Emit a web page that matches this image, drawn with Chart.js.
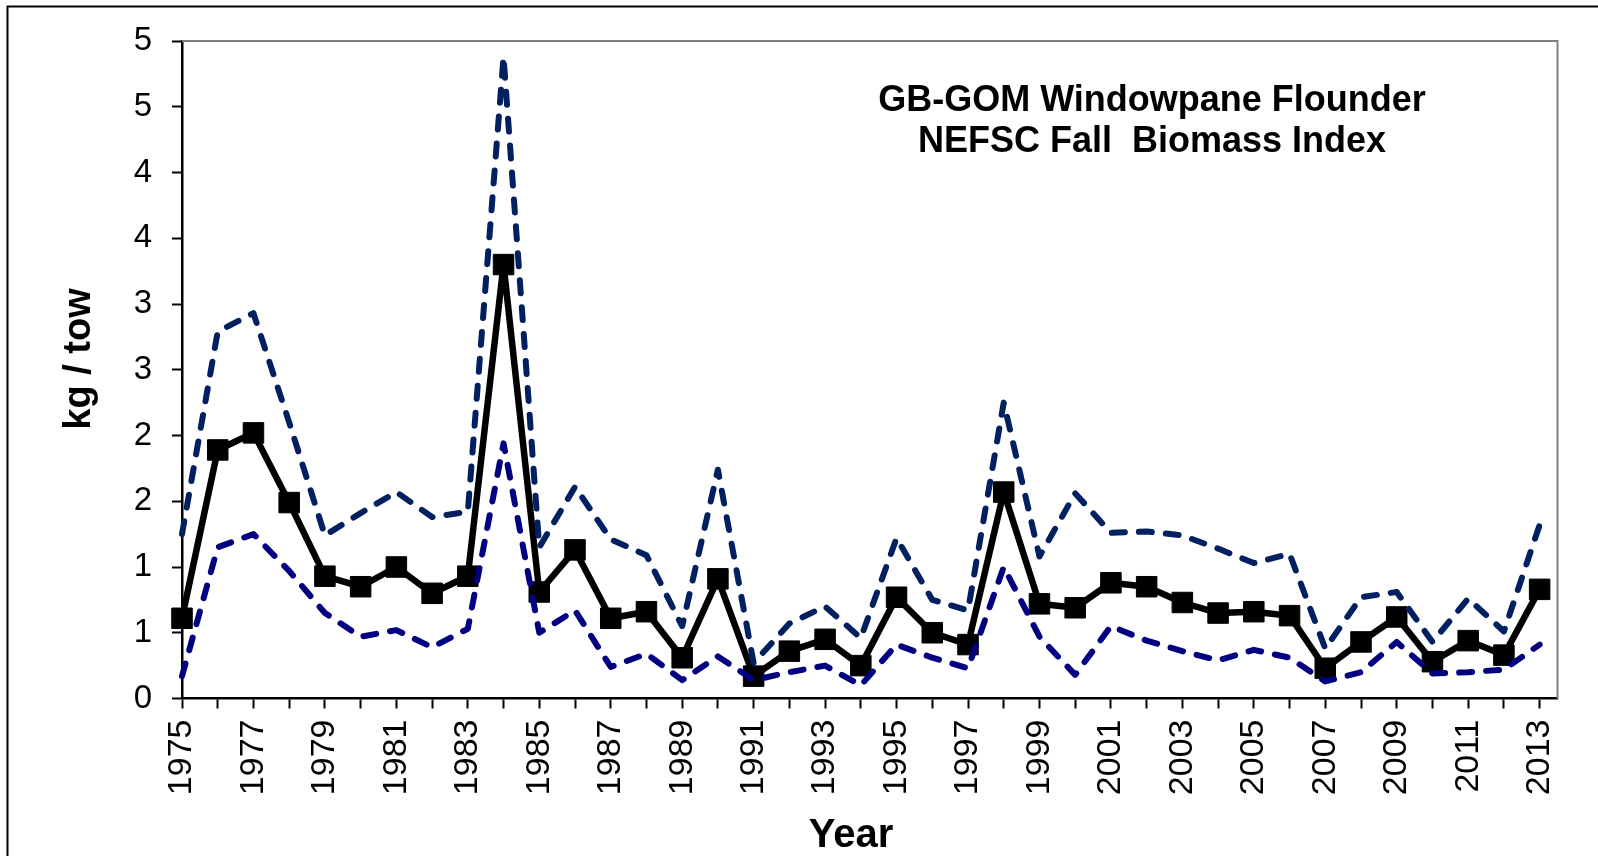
<!DOCTYPE html>
<html>
<head>
<meta charset="utf-8">
<script src="https://cdn.jsdelivr.net/npm/chart.js@4.4.1/dist/chart.umd.min.js"></script>
<style>
  html, body { margin: 0; padding: 0; background: #fff; }
  #c { display: block; }
</style>
</head>
<body>
<canvas id="c" width="1598" height="856"></canvas>
<script>
const years = [1975,1976,1977,1978,1979,1980,1981,1982,1983,1984,
               1985,1986,1987,1988,1989,1990,1991,1992,1993,1994,
               1995,1996,1997,1998,1999,2000,2001,2002,2003,2004,
               2005,2006,2007,2008,2009,2010,2011,2012,2013];

const biomassIndex = [0.61,1.89,2.02,1.49,0.93,0.85,1.00,0.80,0.93,3.30,
                      0.81,1.13,0.61,0.66,0.31,0.91,0.17,0.36,0.45,0.25,
                      0.77,0.50,0.41,1.57,0.72,0.69,0.88,0.85,0.73,0.65,
                      0.66,0.63,0.23,0.43,0.62,0.28,0.44,0.33,0.83];

const upperCI = [1.25,2.79,2.93,2.10,1.24,1.41,1.57,1.38,1.42,4.88,
                 1.15,1.61,1.21,1.09,0.55,1.74,0.27,0.57,0.70,0.46,
                 1.22,0.75,0.67,2.25,1.08,1.56,1.26,1.27,1.24,1.14,
                 1.03,1.10,0.38,0.77,0.81,0.43,0.76,0.51,1.32];

const lowerCI = [0.17,1.15,1.25,0.97,0.65,0.47,0.52,0.39,0.53,1.94,
                 0.50,0.67,0.24,0.34,0.14,0.32,0.14,0.20,0.25,0.10,
                 0.41,0.31,0.23,1.00,0.47,0.18,0.55,0.44,0.36,0.29,
                 0.37,0.31,0.13,0.20,0.43,0.19,0.20,0.22,0.41];

const xTickLabels = ['1975','','1977','','1979','','1981','','1983','',
                     '1985','','1987','','1989','','1991','','1993','',
                     '1995','','1997','','1999','','2001','','2003','',
                     '2005','','2007','','2009','','2011','','2013'];

const yTickLabels = ['0','1','1','2','2','3','3','4','4','5','5'];

const titleLines = ['GB-GOM Windowpane Flounder', 'NEFSC Fall  Biomass Index'];
const xAxisTitle = 'Year';
const yAxisTitle = 'kg / tow';

const FONT = '"Liberation Sans", Arial, sans-serif';

function toPoints(arr) { return years.map((y, i) => ({ x: y, y: arr[i] })); }

const decorPlugin = {
  id: 'decor',
  beforeDraw(chart) {
    const ctx = chart.ctx;
    ctx.save();
    ctx.fillStyle = '#ffffff';
    ctx.fillRect(0, 0, chart.width, chart.height);
    ctx.strokeStyle = '#000000';
    ctx.lineWidth = 2;
    ctx.strokeRect(7.5, 6.5, 1700, 1000);
    ctx.restore();
  },
  beforeDatasetsDraw(chart) {
    const ctx = chart.ctx, a = chart.chartArea;
    ctx.save();
    ctx.strokeStyle = '#808080';
    ctx.lineWidth = 2;
    ctx.beginPath();
    ctx.moveTo(a.left, a.top);
    ctx.lineTo(a.right, a.top);
    ctx.lineTo(a.right, a.bottom);
    ctx.stroke();
    ctx.restore();
  },
  afterDraw(chart) {
    const ctx = chart.ctx;
    ctx.save();
    ctx.fillStyle = '#000000';
    ctx.textAlign = 'center';
    ctx.textBaseline = 'alphabetic';
    ctx.font = 'bold 36px ' + FONT;
    ctx.fillText(titleLines[0], 1152, 111);
    ctx.fillText(titleLines[1], 1152, 152);
    ctx.font = 'bold 40px ' + FONT;
    ctx.fillText(xAxisTitle, 851, 847);
    ctx.translate(80, 359);
    ctx.rotate(-Math.PI / 2);
    ctx.font = 'bold 38px ' + FONT;
    ctx.textBaseline = 'middle';
    ctx.fillText(yAxisTitle, 0, 0);
    ctx.restore();
  }
};

new Chart(document.getElementById('c'), {
  type: 'line',
  data: {
    datasets: [
      {
        label: 'Upper CI',
        data: toPoints(upperCI),
        borderColor: '#002060',
        borderWidth: 6,
        borderDash: [13, 14],
        borderCapStyle: 'round',
        borderJoinStyle: 'round',
        pointRadius: 0,
        tension: 0,
        fill: false,
        clip: false
      },
      {
        label: 'Lower CI',
        data: toPoints(lowerCI),
        borderColor: '#000080',
        borderWidth: 6,
        borderDash: [13, 14],
        borderCapStyle: 'round',
        borderJoinStyle: 'round',
        pointRadius: 0,
        tension: 0,
        fill: false,
        clip: false
      },
      {
        label: 'Biomass Index',
        data: toPoints(biomassIndex),
        borderColor: '#000000',
        borderWidth: 6.5,
        borderJoinStyle: 'round',
        pointStyle: 'rect',
        pointRadius: 14.5,
        pointBackgroundColor: '#000000',
        pointBorderColor: '#000000',
        pointBorderWidth: 1,
        tension: 0,
        fill: false,
        clip: false
      }
    ]
  },
  options: {
    responsive: false,
    animation: false,
    devicePixelRatio: 1,
    layout: { padding: { top: 41, right: 40.5, left: 0, bottom: 0 } },
    plugins: {
      legend: { display: false },
      tooltip: { enabled: false },
      title: { display: false }
    },
    scales: {
      x: {
        type: 'linear',
        position: 'bottom',
        min: 1975,
        max: 2013.5,
        afterBuildTicks(scale) { scale.ticks = years.map(v => ({ value: v })); },
        afterFit(scale) { scale.height = 856 - 698.5; },
        ticks: {
          autoSkip: false,
          minRotation: 90,
          maxRotation: 90,
          padding: 11,
          color: '#000000',
          font: { family: FONT, size: 34 },
          callback(value) { return xTickLabels[years.indexOf(value)]; }
        },
        grid: {
          drawOnChartArea: false,
          drawTicks: true,
          tickLength: 10,
          tickColor: '#000000',
          tickWidth: 2
        },
        border: { display: true, color: '#000000', width: 2.5 }
      },
      y: {
        type: 'linear',
        position: 'left',
        min: 0,
        max: 5,
        afterFit(scale) { scale.width = 182; },
        ticks: {
          stepSize: 0.5,
          padding: 20,
          color: '#000000',
          font: { family: FONT, size: 33 },
          callback(value, index) { return yTickLabels[index]; }
        },
        grid: {
          drawOnChartArea: false,
          drawTicks: true,
          tickLength: 10,
          tickColor: '#000000',
          tickWidth: 2
        },
        border: { display: true, color: '#000000', width: 2.5 }
      }
    }
  },
  plugins: [decorPlugin]
});
</script>
</body>
</html>
